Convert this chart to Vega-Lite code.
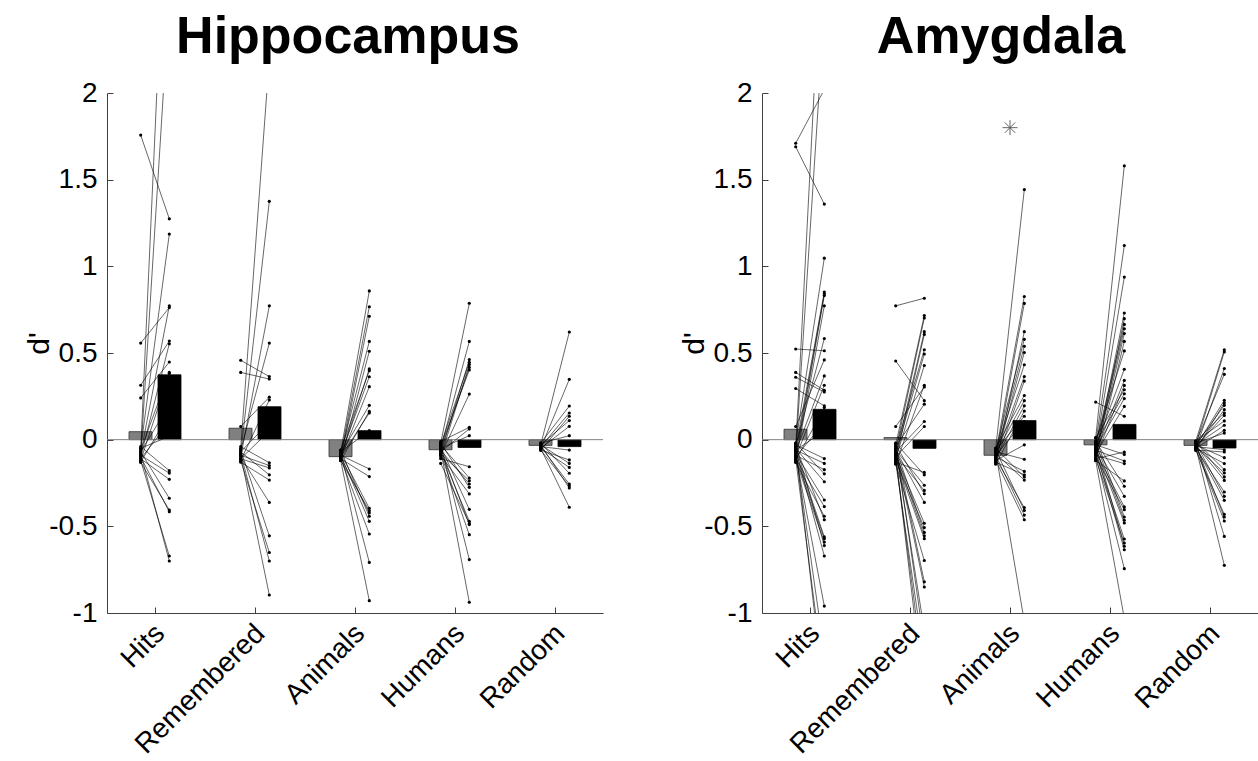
{
 "$schema": "https://vega.github.io/schema/vega-lite/v6.json",
 "background": "white",
 "padding": {"left": 24, "top": 11, "right": 0, "bottom": 0},
 "bounds": "flush",
 "spacing": 159,
 "config": {"view": {"stroke": null}, "font": "Liberation Sans"},
 "datasets": {
  "bars": [
   {"region":"Hippocampus","cat":1,"gray":0.046,"black":0.374},
   {"region":"Hippocampus","cat":2,"gray":0.066,"black":0.19},
   {"region":"Hippocampus","cat":3,"gray":-0.098,"black":0.052},
   {"region":"Hippocampus","cat":4,"gray":-0.058,"black":-0.045},
   {"region":"Hippocampus","cat":5,"gray":-0.033,"black":-0.04},
   {"region":"Amygdala","cat":1,"gray":0.06,"black":0.175},
   {"region":"Amygdala","cat":2,"gray":0.012,"black":-0.05},
   {"region":"Amygdala","cat":3,"gray":-0.09,"black":0.11},
   {"region":"Amygdala","cat":4,"gray":-0.03,"black":0.088},
   {"region":"Amygdala","cat":5,"gray":-0.033,"black":-0.048}
  ],
  "zero": [{"baseline": 0}],
  "star": [{"region":"Amygdala","cat":3,"value":1.8}],
  "pairs": [
   {"region":"Hippocampus","cat":1,"left":1.757,"right":1.274},
   {"region":"Hippocampus","cat":1,"left":0.557,"right":0.762},
   {"region":"Hippocampus","cat":1,"left":0.314,"right":0.569},
   {"region":"Hippocampus","cat":1,"left":0.241,"right":0.448},
   {"region":"Hippocampus","cat":1,"left":-0.05,"right":1.186},
   {"region":"Hippocampus","cat":1,"left":-0.08,"right":0.772},
   {"region":"Hippocampus","cat":1,"left":-0.10,"right":0.553},
   {"region":"Hippocampus","cat":1,"left":-0.06,"right":0.388},
   {"region":"Hippocampus","cat":1,"left":-0.12,"right":0.382},
   {"region":"Hippocampus","cat":1,"left":-0.04,"right":-0.179},
   {"region":"Hippocampus","cat":1,"left":-0.09,"right":-0.193},
   {"region":"Hippocampus","cat":1,"left":-0.11,"right":-0.229},
   {"region":"Hippocampus","cat":1,"left":-0.07,"right":-0.338},
   {"region":"Hippocampus","cat":1,"left":-0.13,"right":-0.406},
   {"region":"Hippocampus","cat":1,"left":-0.10,"right":-0.416},
   {"region":"Hippocampus","cat":1,"left":-0.12,"right":-0.671},
   {"region":"Hippocampus","cat":1,"left":-0.08,"right":-0.70},
   {"region":"Hippocampus","cat":1,"left":-0.06,"right":3.6},
   {"region":"Hippocampus","cat":1,"left":-0.09,"right":2.55},
   {"region":"Hippocampus","cat":1,"left":-0.11,"right":0.10},
   {"region":"Hippocampus","cat":1,"left":-0.07,"right":0.20},
   {"region":"Hippocampus","cat":1,"left":-0.05,"right":0.02},
   {"region":"Hippocampus","cat":1,"left":-0.13,"right":0.15},
   {"region":"Hippocampus","cat":2,"left":0.458,"right":0.364},
   {"region":"Hippocampus","cat":2,"left":0.388,"right":0.35},
   {"region":"Hippocampus","cat":2,"left":0.076,"right":0.245},
   {"region":"Hippocampus","cat":2,"left":-0.05,"right":2.2},
   {"region":"Hippocampus","cat":2,"left":-0.08,"right":1.375},
   {"region":"Hippocampus","cat":2,"left":-0.10,"right":0.772},
   {"region":"Hippocampus","cat":2,"left":-0.06,"right":0.557},
   {"region":"Hippocampus","cat":2,"left":-0.12,"right":0.229},
   {"region":"Hippocampus","cat":2,"left":-0.04,"right":-0.133},
   {"region":"Hippocampus","cat":2,"left":-0.09,"right":-0.149},
   {"region":"Hippocampus","cat":2,"left":-0.11,"right":-0.163},
   {"region":"Hippocampus","cat":2,"left":-0.07,"right":-0.203},
   {"region":"Hippocampus","cat":2,"left":-0.13,"right":-0.233},
   {"region":"Hippocampus","cat":2,"left":-0.10,"right":-0.362},
   {"region":"Hippocampus","cat":2,"left":-0.06,"right":-0.555},
   {"region":"Hippocampus","cat":2,"left":-0.12,"right":-0.651},
   {"region":"Hippocampus","cat":2,"left":-0.08,"right":-0.70},
   {"region":"Hippocampus","cat":2,"left":-0.09,"right":-0.896},
   {"region":"Hippocampus","cat":2,"left":-0.07,"right":0.10},
   {"region":"Hippocampus","cat":2,"left":-0.11,"right":0.05},
   {"region":"Hippocampus","cat":3,"left":-0.07,"right":0.858},
   {"region":"Hippocampus","cat":3,"left":-0.09,"right":0.767},
   {"region":"Hippocampus","cat":3,"left":-0.11,"right":0.712},
   {"region":"Hippocampus","cat":3,"left":-0.08,"right":0.567},
   {"region":"Hippocampus","cat":3,"left":-0.12,"right":0.510},
   {"region":"Hippocampus","cat":3,"left":-0.10,"right":0.408},
   {"region":"Hippocampus","cat":3,"left":-0.06,"right":0.398},
   {"region":"Hippocampus","cat":3,"left":-0.09,"right":0.363},
   {"region":"Hippocampus","cat":3,"left":-0.11,"right":0.306},
   {"region":"Hippocampus","cat":3,"left":-0.08,"right":0.198},
   {"region":"Hippocampus","cat":3,"left":-0.12,"right":0.163},
   {"region":"Hippocampus","cat":3,"left":-0.10,"right":0.154},
   {"region":"Hippocampus","cat":3,"left":-0.07,"right":0.052},
   {"region":"Hippocampus","cat":3,"left":-0.09,"right":-0.169},
   {"region":"Hippocampus","cat":3,"left":-0.11,"right":-0.213},
   {"region":"Hippocampus","cat":3,"left":-0.08,"right":-0.396},
   {"region":"Hippocampus","cat":3,"left":-0.12,"right":-0.41},
   {"region":"Hippocampus","cat":3,"left":-0.10,"right":-0.423},
   {"region":"Hippocampus","cat":3,"left":-0.06,"right":-0.442},
   {"region":"Hippocampus","cat":3,"left":-0.09,"right":-0.471},
   {"region":"Hippocampus","cat":3,"left":-0.11,"right":-0.544},
   {"region":"Hippocampus","cat":3,"left":-0.08,"right":-0.708},
   {"region":"Hippocampus","cat":3,"left":-0.12,"right":-0.929},
   {"region":"Hippocampus","cat":4,"left":-0.02,"right":0.787},
   {"region":"Hippocampus","cat":4,"left":-0.05,"right":0.567},
   {"region":"Hippocampus","cat":4,"left":-0.08,"right":0.462},
   {"region":"Hippocampus","cat":4,"left":-0.03,"right":0.446},
   {"region":"Hippocampus","cat":4,"left":-0.10,"right":0.433},
   {"region":"Hippocampus","cat":4,"left":-0.06,"right":0.417},
   {"region":"Hippocampus","cat":4,"left":-0.04,"right":0.402},
   {"region":"Hippocampus","cat":4,"left":-0.09,"right":0.263},
   {"region":"Hippocampus","cat":4,"left":-0.01,"right":0.071},
   {"region":"Hippocampus","cat":4,"left":-0.07,"right":0.062},
   {"region":"Hippocampus","cat":4,"left":-0.05,"right":0.023},
   {"region":"Hippocampus","cat":4,"left":-0.11,"right":-0.156},
   {"region":"Hippocampus","cat":4,"left":-0.03,"right":-0.221},
   {"region":"Hippocampus","cat":4,"left":-0.08,"right":-0.237},
   {"region":"Hippocampus","cat":4,"left":-0.06,"right":-0.256},
   {"region":"Hippocampus","cat":4,"left":-0.02,"right":-0.275},
   {"region":"Hippocampus","cat":4,"left":-0.09,"right":-0.313},
   {"region":"Hippocampus","cat":4,"left":-0.04,"right":-0.402},
   {"region":"Hippocampus","cat":4,"left":-0.07,"right":-0.471},
   {"region":"Hippocampus","cat":4,"left":-0.137,"right":-0.483},
   {"region":"Hippocampus","cat":4,"left":-0.05,"right":-0.49},
   {"region":"Hippocampus","cat":4,"left":-0.08,"right":-0.548},
   {"region":"Hippocampus","cat":4,"left":-0.03,"right":-0.692},
   {"region":"Hippocampus","cat":4,"left":-0.06,"right":-0.938},
   {"region":"Hippocampus","cat":5,"left":-0.03,"right":0.621},
   {"region":"Hippocampus","cat":5,"left":-0.05,"right":0.348},
   {"region":"Hippocampus","cat":5,"left":-0.02,"right":0.194},
   {"region":"Hippocampus","cat":5,"left":-0.04,"right":0.154},
   {"region":"Hippocampus","cat":5,"left":-0.06,"right":0.135},
   {"region":"Hippocampus","cat":5,"left":-0.03,"right":0.11},
   {"region":"Hippocampus","cat":5,"left":-0.05,"right":0.077},
   {"region":"Hippocampus","cat":5,"left":-0.02,"right":0.023},
   {"region":"Hippocampus","cat":5,"left":-0.04,"right":-0.06},
   {"region":"Hippocampus","cat":5,"left":-0.06,"right":-0.117},
   {"region":"Hippocampus","cat":5,"left":-0.03,"right":-0.137},
   {"region":"Hippocampus","cat":5,"left":-0.05,"right":-0.16},
   {"region":"Hippocampus","cat":5,"left":-0.02,"right":-0.194},
   {"region":"Hippocampus","cat":5,"left":-0.04,"right":-0.256},
   {"region":"Hippocampus","cat":5,"left":-0.06,"right":-0.267},
   {"region":"Hippocampus","cat":5,"left":-0.03,"right":-0.279},
   {"region":"Hippocampus","cat":5,"left":-0.05,"right":-0.39},
   {"region":"Amygdala","cat":1,"left":1.71,"right":2.02},
   {"region":"Amygdala","cat":1,"left":1.69,"right":1.359},
   {"region":"Amygdala","cat":1,"left":0.523,"right":0.513},
   {"region":"Amygdala","cat":1,"left":0.388,"right":0.285},
   {"region":"Amygdala","cat":1,"left":0.36,"right":0.275},
   {"region":"Amygdala","cat":1,"left":0.295,"right":0.195},
   {"region":"Amygdala","cat":1,"left":0.076,"right":0.46},
   {"region":"Amygdala","cat":1,"left":-0.02,"right":1.047},
   {"region":"Amygdala","cat":1,"left":-0.05,"right":0.852},
   {"region":"Amygdala","cat":1,"left":-0.08,"right":0.842},
   {"region":"Amygdala","cat":1,"left":-0.11,"right":0.832},
   {"region":"Amygdala","cat":1,"left":-0.13,"right":0.772},
   {"region":"Amygdala","cat":1,"left":-0.04,"right":0.583},
   {"region":"Amygdala","cat":1,"left":-0.07,"right":0.368},
   {"region":"Amygdala","cat":1,"left":-0.10,"right":0.314},
   {"region":"Amygdala","cat":1,"left":-0.12,"right":0.185},
   {"region":"Amygdala","cat":1,"left":-0.03,"right":-0.109},
   {"region":"Amygdala","cat":1,"left":-0.06,"right":-0.137},
   {"region":"Amygdala","cat":1,"left":-0.09,"right":-0.173},
   {"region":"Amygdala","cat":1,"left":-0.02,"right":-0.197},
   {"region":"Amygdala","cat":1,"left":-0.05,"right":-0.243},
   {"region":"Amygdala","cat":1,"left":-0.08,"right":-0.348},
   {"region":"Amygdala","cat":1,"left":-0.11,"right":-0.386},
   {"region":"Amygdala","cat":1,"left":-0.13,"right":-0.442},
   {"region":"Amygdala","cat":1,"left":-0.04,"right":-0.462},
   {"region":"Amygdala","cat":1,"left":-0.07,"right":-0.561},
   {"region":"Amygdala","cat":1,"left":-0.10,"right":-0.571},
   {"region":"Amygdala","cat":1,"left":-0.12,"right":-0.591},
   {"region":"Amygdala","cat":1,"left":-0.03,"right":-0.611},
   {"region":"Amygdala","cat":1,"left":-0.06,"right":-0.671},
   {"region":"Amygdala","cat":1,"left":-0.09,"right":-0.96},
   {"region":"Amygdala","cat":1,"left":-0.05,"right":3.15},
   {"region":"Amygdala","cat":1,"left":-0.08,"right":2.47},
   {"region":"Amygdala","cat":1,"left":-0.11,"right":-1.39},
   {"region":"Amygdala","cat":1,"left":-0.07,"right":-1.23},
   {"region":"Amygdala","cat":1,"left":-0.04,"right":-1.5},
   {"region":"Amygdala","cat":1,"left":-0.10,"right":0.10},
   {"region":"Amygdala","cat":1,"left":-0.06,"right":0.05},
   {"region":"Amygdala","cat":2,"left":0.772,"right":0.816},
   {"region":"Amygdala","cat":2,"left":0.454,"right":0.225},
   {"region":"Amygdala","cat":2,"left":0.076,"right":0.304},
   {"region":"Amygdala","cat":2,"left":-0.03,"right":0.716},
   {"region":"Amygdala","cat":2,"left":-0.06,"right":0.702},
   {"region":"Amygdala","cat":2,"left":-0.09,"right":0.623},
   {"region":"Amygdala","cat":2,"left":-0.12,"right":0.607},
   {"region":"Amygdala","cat":2,"left":-0.05,"right":0.519},
   {"region":"Amygdala","cat":2,"left":-0.08,"right":0.494},
   {"region":"Amygdala","cat":2,"left":-0.11,"right":0.428},
   {"region":"Amygdala","cat":2,"left":-0.14,"right":0.314},
   {"region":"Amygdala","cat":2,"left":-0.04,"right":0.205},
   {"region":"Amygdala","cat":2,"left":-0.07,"right":0.105},
   {"region":"Amygdala","cat":2,"left":-0.10,"right":0.076},
   {"region":"Amygdala","cat":2,"left":-0.13,"right":-0.189},
   {"region":"Amygdala","cat":2,"left":-0.02,"right":-0.203},
   {"region":"Amygdala","cat":2,"left":-0.06,"right":-0.263},
   {"region":"Amygdala","cat":2,"left":-0.09,"right":-0.293},
   {"region":"Amygdala","cat":2,"left":-0.03,"right":-0.312},
   {"region":"Amygdala","cat":2,"left":-0.06,"right":-0.362},
   {"region":"Amygdala","cat":2,"left":-0.09,"right":-0.482},
   {"region":"Amygdala","cat":2,"left":-0.12,"right":-0.507},
   {"region":"Amygdala","cat":2,"left":-0.05,"right":-0.535},
   {"region":"Amygdala","cat":2,"left":-0.08,"right":-0.555},
   {"region":"Amygdala","cat":2,"left":-0.11,"right":-0.571},
   {"region":"Amygdala","cat":2,"left":-0.14,"right":-0.697},
   {"region":"Amygdala","cat":2,"left":-0.04,"right":-0.82},
   {"region":"Amygdala","cat":2,"left":-0.07,"right":-0.85},
   {"region":"Amygdala","cat":2,"left":-0.10,"right":-1.39},
   {"region":"Amygdala","cat":2,"left":-0.13,"right":-1.27},
   {"region":"Amygdala","cat":2,"left":-0.02,"right":-1.18},
   {"region":"Amygdala","cat":2,"left":-0.06,"right":-1.10},
   {"region":"Amygdala","cat":2,"left":-0.09,"right":-1.5},
   {"region":"Amygdala","cat":3,"left":-0.05,"right":1.443},
   {"region":"Amygdala","cat":3,"left":-0.08,"right":0.826},
   {"region":"Amygdala","cat":3,"left":-0.11,"right":0.786},
   {"region":"Amygdala","cat":3,"left":-0.14,"right":0.623},
   {"region":"Amygdala","cat":3,"left":-0.06,"right":0.579},
   {"region":"Amygdala","cat":3,"left":-0.09,"right":0.539},
   {"region":"Amygdala","cat":3,"left":-0.12,"right":0.503},
   {"region":"Amygdala","cat":3,"left":-0.07,"right":0.432},
   {"region":"Amygdala","cat":3,"left":-0.10,"right":0.364},
   {"region":"Amygdala","cat":3,"left":-0.13,"right":0.338},
   {"region":"Amygdala","cat":3,"left":-0.05,"right":0.255},
   {"region":"Amygdala","cat":3,"left":-0.08,"right":0.225},
   {"region":"Amygdala","cat":3,"left":-0.11,"right":0.195},
   {"region":"Amygdala","cat":3,"left":-0.14,"right":0.165},
   {"region":"Amygdala","cat":3,"left":-0.06,"right":0.135},
   {"region":"Amygdala","cat":3,"left":-0.09,"right":0.105},
   {"region":"Amygdala","cat":3,"left":-0.12,"right":-0.03},
   {"region":"Amygdala","cat":3,"left":-0.07,"right":-0.113},
   {"region":"Amygdala","cat":3,"left":-0.10,"right":-0.183},
   {"region":"Amygdala","cat":3,"left":-0.13,"right":-0.203},
   {"region":"Amygdala","cat":3,"left":-0.05,"right":-0.215},
   {"region":"Amygdala","cat":3,"left":-0.08,"right":-0.233},
   {"region":"Amygdala","cat":3,"left":-0.11,"right":-0.392},
   {"region":"Amygdala","cat":3,"left":-0.06,"right":-0.408},
   {"region":"Amygdala","cat":3,"left":-0.09,"right":-0.435},
   {"region":"Amygdala","cat":3,"left":-0.12,"right":-0.462},
   {"region":"Amygdala","cat":3,"left":-0.07,"right":-1.05},
   {"region":"Amygdala","cat":4,"left":0.217,"right":0.135},
   {"region":"Amygdala","cat":4,"left":0.01,"right":1.58},
   {"region":"Amygdala","cat":4,"left":-0.02,"right":1.12},
   {"region":"Amygdala","cat":4,"left":-0.05,"right":0.938},
   {"region":"Amygdala","cat":4,"left":-0.08,"right":0.731},
   {"region":"Amygdala","cat":4,"left":-0.11,"right":0.698},
   {"region":"Amygdala","cat":4,"left":-0.03,"right":0.665},
   {"region":"Amygdala","cat":4,"left":-0.06,"right":0.640},
   {"region":"Amygdala","cat":4,"left":-0.09,"right":0.612},
   {"region":"Amygdala","cat":4,"left":-0.12,"right":0.567},
   {"region":"Amygdala","cat":4,"left":-0.01,"right":0.512},
   {"region":"Amygdala","cat":4,"left":-0.04,"right":0.406},
   {"region":"Amygdala","cat":4,"left":-0.07,"right":0.342},
   {"region":"Amygdala","cat":4,"left":-0.10,"right":0.313},
   {"region":"Amygdala","cat":4,"left":0.01,"right":0.288},
   {"region":"Amygdala","cat":4,"left":-0.02,"right":0.265},
   {"region":"Amygdala","cat":4,"left":-0.05,"right":0.237},
   {"region":"Amygdala","cat":4,"left":-0.08,"right":0.192},
   {"region":"Amygdala","cat":4,"left":-0.11,"right":-0.071},
   {"region":"Amygdala","cat":4,"left":-0.03,"right":-0.085},
   {"region":"Amygdala","cat":4,"left":-0.06,"right":-0.123},
   {"region":"Amygdala","cat":4,"left":-0.09,"right":-0.138},
   {"region":"Amygdala","cat":4,"left":-0.12,"right":-0.238},
   {"region":"Amygdala","cat":4,"left":-0.01,"right":-0.269},
   {"region":"Amygdala","cat":4,"left":-0.04,"right":-0.327},
   {"region":"Amygdala","cat":4,"left":-0.07,"right":-0.388},
   {"region":"Amygdala","cat":4,"left":-0.10,"right":-0.404},
   {"region":"Amygdala","cat":4,"left":0.01,"right":-0.446},
   {"region":"Amygdala","cat":4,"left":-0.02,"right":-0.465},
   {"region":"Amygdala","cat":4,"left":-0.05,"right":-0.481},
   {"region":"Amygdala","cat":4,"left":-0.08,"right":-0.573},
   {"region":"Amygdala","cat":4,"left":-0.11,"right":-0.596},
   {"region":"Amygdala","cat":4,"left":-0.03,"right":-0.615},
   {"region":"Amygdala","cat":4,"left":-0.06,"right":-0.635},
   {"region":"Amygdala","cat":4,"left":-0.09,"right":-0.744},
   {"region":"Amygdala","cat":4,"left":-0.12,"right":-1.03},
   {"region":"Amygdala","cat":5,"left":-0.01,"right":0.519},
   {"region":"Amygdala","cat":5,"left":-0.03,"right":0.506},
   {"region":"Amygdala","cat":5,"left":-0.05,"right":0.41},
   {"region":"Amygdala","cat":5,"left":-0.02,"right":0.377},
   {"region":"Amygdala","cat":5,"left":-0.04,"right":0.227},
   {"region":"Amygdala","cat":5,"left":-0.06,"right":0.212},
   {"region":"Amygdala","cat":5,"left":-0.03,"right":0.198},
   {"region":"Amygdala","cat":5,"left":-0.05,"right":0.173},
   {"region":"Amygdala","cat":5,"left":-0.01,"right":0.154},
   {"region":"Amygdala","cat":5,"left":-0.04,"right":0.14},
   {"region":"Amygdala","cat":5,"left":-0.01,"right":0.108},
   {"region":"Amygdala","cat":5,"left":-0.03,"right":0.083},
   {"region":"Amygdala","cat":5,"left":-0.05,"right":0.054},
   {"region":"Amygdala","cat":5,"left":-0.02,"right":0.038},
   {"region":"Amygdala","cat":5,"left":-0.04,"right":-0.058},
   {"region":"Amygdala","cat":5,"left":-0.06,"right":-0.071},
   {"region":"Amygdala","cat":5,"left":-0.03,"right":-0.104},
   {"region":"Amygdala","cat":5,"left":-0.05,"right":-0.138},
   {"region":"Amygdala","cat":5,"left":-0.01,"right":-0.173},
   {"region":"Amygdala","cat":5,"left":-0.04,"right":-0.192},
   {"region":"Amygdala","cat":5,"left":-0.01,"right":-0.215},
   {"region":"Amygdala","cat":5,"left":-0.03,"right":-0.235},
   {"region":"Amygdala","cat":5,"left":-0.05,"right":-0.302},
   {"region":"Amygdala","cat":5,"left":-0.02,"right":-0.327},
   {"region":"Amygdala","cat":5,"left":-0.04,"right":-0.35},
   {"region":"Amygdala","cat":5,"left":-0.06,"right":-0.431},
   {"region":"Amygdala","cat":5,"left":-0.03,"right":-0.446},
   {"region":"Amygdala","cat":5,"left":-0.05,"right":-0.469},
   {"region":"Amygdala","cat":5,"left":-0.01,"right":-0.558},
   {"region":"Amygdala","cat":5,"left":-0.04,"right":-0.725}
  ]
 },
 "hconcat": [
  {
   "width": 496, "height": 520,
   "title": {"text": "Hippocampus", "font": "Liberation Sans", "fontSize": 52, "fontWeight": "bold", "color": "black", "anchor": "middle", "frame": "group", "baseline": "alphabetic", "offset": -26, "dx": -7},
   "layer": [
    {
     "data": {"name": "bars"},
     "transform": [{"filter": "datum.region === 'Hippocampus'"}],
     "mark": {"type": "rect", "xOffset": -26, "x2Offset": -3, "fill": "#808080", "stroke": "#303030", "strokeWidth": 0.8},
     "encoding": {
      "x": {"field": "cat", "type": "quantitative", "scale": {"domain": [0.52, 5.48], "nice": false, "zero": false},
            "axis": {"values": [1,2,3,4,5], "labelExpr": "['','Hits','Remembered','Animals','Humans','Random'][datum.value]", "title": null, "labelAngle": -45, "labelAlign": "right", "labelBaseline": "middle", "labelFont": "Liberation Sans", "labelFontSize": 28, "labelColor": "black", "tickSize": -6, "labelPadding": 22, "labelOffset": 5, "grid": false, "labelFlush": false, "labelOverlap": false, "labelBound": false, "domainColor": "#404040", "tickColor": "#404040", "domainWidth": 1}},
      "x2": {"field": "cat"},
      "y": {"field": "gray", "type": "quantitative", "scale": {"domain": [-1, 2], "nice": false, "zero": false},
            "axis": {"values": [-1,-0.5,0,0.5,1,1.5,2], "labelExpr": "'' + datum.value", "title": "d'", "titleFont": "Liberation Sans", "titleFontSize": 30, "titleFontWeight": "normal", "titleColor": "black", "titleAngle": -90, "titleAlign": "center", "titleBaseline": "middle", "titleX": -68, "titleY": 250, "labelFont": "Liberation Sans", "labelFontSize": 28, "labelColor": "black", "tickSize": -6, "labelPadding": 16, "grid": false, "labelFlush": false, "labelOverlap": false, "domainColor": "#404040", "tickColor": "#404040", "domainWidth": 1}},
      "y2": {"datum": 0}
     }
    },
    {
     "data": {"name": "bars"},
     "transform": [{"filter": "datum.region === 'Hippocampus'"}],
     "mark": {"type": "rect", "xOffset": 3, "x2Offset": 26, "fill": "#000000", "stroke": "#000000", "strokeWidth": 0.8},
     "encoding": {
      "x": {"field": "cat", "type": "quantitative", "title": null},
      "x2": {"field": "cat"},
      "y": {"field": "black", "type": "quantitative", "title": "d'"},
      "y2": {"datum": 0}
     }
    },
    {
     "data": {"name": "zero"},
     "mark": {"type": "rule", "stroke": "#808080", "strokeWidth": 1},
     "encoding": {"y": {"field": "baseline", "type": "quantitative", "title": "d'"}}
    },
    {
     "data": {"name": "pairs"},
     "transform": [{"filter": "datum.region === 'Hippocampus'"}],
     "mark": {"type": "rule", "xOffset": -14.3, "x2Offset": 14.3, "stroke": "#000000", "strokeWidth": 0.6, "clip": true},
     "encoding": {
      "x": {"field": "cat", "type": "quantitative", "title": null},
      "x2": {"field": "cat"},
      "y": {"field": "left", "type": "quantitative", "title": "d'"},
      "y2": {"field": "right"}
     }
    },
    {
     "data": {"name": "pairs"},
     "transform": [{"filter": "datum.region === 'Hippocampus'"}],
     "mark": {"type": "circle", "xOffset": -14.3, "size": 10, "color": "#000000", "opacity": 1, "clip": true},
     "encoding": {
      "x": {"field": "cat", "type": "quantitative", "title": null},
      "y": {"field": "left", "type": "quantitative", "title": "d'"}
     }
    },
    {
     "data": {"name": "pairs"},
     "transform": [{"filter": "datum.region === 'Hippocampus'"}],
     "mark": {"type": "circle", "xOffset": 14.3, "size": 10, "color": "#000000", "opacity": 1, "clip": true},
     "encoding": {
      "x": {"field": "cat", "type": "quantitative", "title": null},
      "y": {"field": "right", "type": "quantitative", "title": "d'"}
     }
    }
   ]
  },
  {
   "width": 496, "height": 520,
   "title": {"text": "Amygdala", "font": "Liberation Sans", "fontSize": 52, "fontWeight": "bold", "color": "black", "anchor": "middle", "frame": "group", "baseline": "alphabetic", "offset": -26, "dx": -9},
   "layer": [
    {
     "data": {"name": "bars"},
     "transform": [{"filter": "datum.region === 'Amygdala'"}],
     "mark": {"type": "rect", "xOffset": -26, "x2Offset": -3, "fill": "#808080", "stroke": "#303030", "strokeWidth": 0.8},
     "encoding": {
      "x": {"field": "cat", "type": "quantitative", "scale": {"domain": [0.52, 5.48], "nice": false, "zero": false},
            "axis": {"values": [1,2,3,4,5], "labelExpr": "['','Hits','Remembered','Animals','Humans','Random'][datum.value]", "title": null, "labelAngle": -45, "labelAlign": "right", "labelBaseline": "middle", "labelFont": "Liberation Sans", "labelFontSize": 28, "labelColor": "black", "tickSize": -6, "labelPadding": 22, "labelOffset": 5, "grid": false, "labelFlush": false, "labelOverlap": false, "labelBound": false, "domainColor": "#404040", "tickColor": "#404040", "domainWidth": 1}},
      "x2": {"field": "cat"},
      "y": {"field": "gray", "type": "quantitative", "scale": {"domain": [-1, 2], "nice": false, "zero": false},
            "axis": {"values": [-1,-0.5,0,0.5,1,1.5,2], "labelExpr": "'' + datum.value", "title": "d'", "titleFont": "Liberation Sans", "titleFontSize": 30, "titleFontWeight": "normal", "titleColor": "black", "titleAngle": -90, "titleAlign": "center", "titleBaseline": "middle", "titleX": -68, "titleY": 250, "labelFont": "Liberation Sans", "labelFontSize": 28, "labelColor": "black", "tickSize": -6, "labelPadding": 16, "grid": false, "labelFlush": false, "labelOverlap": false, "domainColor": "#404040", "tickColor": "#404040", "domainWidth": 1}},
      "y2": {"datum": 0}
     }
    },
    {
     "data": {"name": "bars"},
     "transform": [{"filter": "datum.region === 'Amygdala'"}],
     "mark": {"type": "rect", "xOffset": 3, "x2Offset": 26, "fill": "#000000", "stroke": "#000000", "strokeWidth": 0.8},
     "encoding": {
      "x": {"field": "cat", "type": "quantitative", "title": null},
      "x2": {"field": "cat"},
      "y": {"field": "black", "type": "quantitative", "title": "d'"},
      "y2": {"datum": 0}
     }
    },
    {
     "data": {"name": "zero"},
     "mark": {"type": "rule", "stroke": "#808080", "strokeWidth": 1},
     "encoding": {"y": {"field": "baseline", "type": "quantitative", "title": "d'"}}
    },
    {
     "data": {"name": "pairs"},
     "transform": [{"filter": "datum.region === 'Amygdala'"}],
     "mark": {"type": "rule", "xOffset": -14.3, "x2Offset": 14.3, "stroke": "#000000", "strokeWidth": 0.6, "clip": true},
     "encoding": {
      "x": {"field": "cat", "type": "quantitative", "title": null},
      "x2": {"field": "cat"},
      "y": {"field": "left", "type": "quantitative", "title": "d'"},
      "y2": {"field": "right"}
     }
    },
    {
     "data": {"name": "pairs"},
     "transform": [{"filter": "datum.region === 'Amygdala'"}],
     "mark": {"type": "circle", "xOffset": -14.3, "size": 10, "color": "#000000", "opacity": 1, "clip": true},
     "encoding": {
      "x": {"field": "cat", "type": "quantitative", "title": null},
      "y": {"field": "left", "type": "quantitative", "title": "d'"}
     }
    },
    {
     "data": {"name": "pairs"},
     "transform": [{"filter": "datum.region === 'Amygdala'"}],
     "mark": {"type": "circle", "xOffset": 14.3, "size": 10, "color": "#000000", "opacity": 1, "clip": true},
     "encoding": {
      "x": {"field": "cat", "type": "quantitative", "title": null},
      "y": {"field": "right", "type": "quantitative", "title": "d'"}
     }
    },
    {
     "data": {"name": "star"},
     "mark": {"type": "point", "shape": "M-1,0L1,0M0,-1L0,1M-0.7,-0.7L0.7,0.7M-0.7,0.7L0.7,-0.7", "size": 225, "filled": false, "stroke": "#555555", "strokeWidth": 0.9, "opacity": 1},
     "encoding": {
      "x": {"field": "cat", "type": "quantitative", "title": null},
      "y": {"field": "value", "type": "quantitative", "title": "d'"}
     }
    }
   ]
  }
 ]
}
